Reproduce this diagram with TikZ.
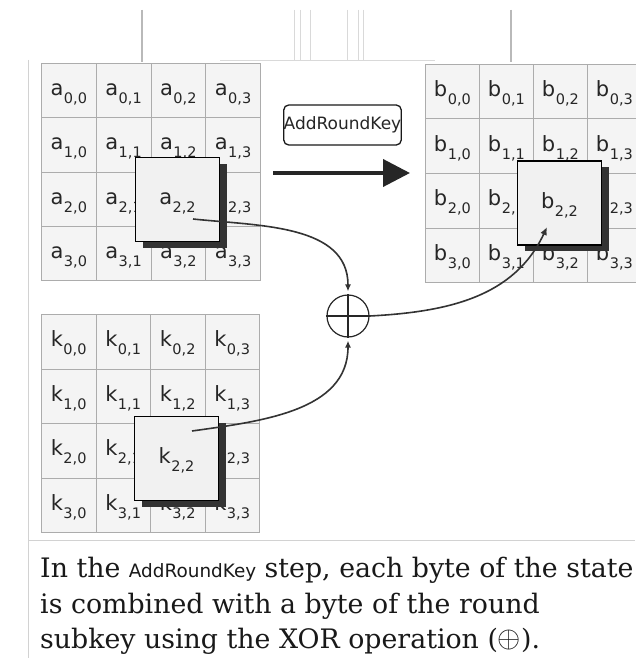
\documentclass[tikz,border=0pt]{standalone}
\usepackage{fontspec}
\usepackage{graphicx}
\setmainfont{DejaVu Serif}
\newfontfamily\cellfont{DejaVu Sans}
\usetikzlibrary{arrows.meta,shadows}

% letter with a lowered index, as printed in the state grids
\newcommand\cellab[2]{{\cellfont\fontsize{21}{21}\selectfont #1\kern0.5pt\raisebox{-8pt}{\fontsize{14.5}{14.5}\selectfont #2}}}
% xor sign at caption size
\newcommand\bigxor{\raisebox{0.5pt}{\scalebox{1.2}{$\oplus$}}}

\tikzset{
  cellbox/.style={draw=gray!65, line width=0.8pt, fill=gray!9, inner sep=0pt,
    anchor=north west, text height=16pt, text depth=6pt, text=black!85},
  hibox/.style={draw=black, line width=1.3pt, fill=gray!11, minimum size=84pt,
    inner sep=0pt, text height=16pt, text depth=6pt, text=black!85,
    drop shadow={shadow xshift=7pt, shadow yshift=-6pt, fill=black!80, opacity=1}},
  link/.style={draw=black!80, line width=1.6pt, -{Latex[length=7pt,width=6pt]}},
  opbox/.style={draw=black!90, line width=1.3pt, rounded corners=5pt, fill=white,
    minimum width=109pt, minimum height=40pt, inner sep=0pt,
    font=\cellfont\fontsize{17}{17}\selectfont, text=black!85},
  xorbox/.style={draw=black!85, circle, line width=1.2pt, minimum size=42pt, inner sep=0pt},
  edge line/.style={draw=gray!35, line width=0.8pt},
  capline/.style={anchor=base west, inner sep=0pt, text=black!90,
    font=\fontsize{26.8}{30}\selectfont}
}

\begin{document}
\begin{tikzpicture}[x=1pt,y=-1pt]
\useasboundingbox[fill=white] (0,0) rectangle (635,658);

% scanned page edges
\draw[edge line] (28,60) -- (28,658);
\draw[edge line] (28,540) -- (635,540);

% strokes above the grids
\draw[gray!55, line width=2pt] (142,10) -- (142,62);
\draw[gray!55, line width=2pt] (511,10) -- (511,62);
\foreach \xx in {294,300,310,347,358,363}
  \draw[gray!30, line width=0.6pt] (\xx,10) -- (\xx,60);
\draw[gray!30, line width=0.6pt] (220,60) -- (435,60);

% state grid a (the covered middle byte is printed on its own box)
\foreach \r in {0,...,3}
  \foreach \c in {0,...,3}{
    \ifnum\r\c=22
      \node[cellbox, minimum width=54.75pt, minimum height=54.25pt]
        (a-\r-\c) at ({41+\c*54.75},{63+\r*54.25}) {};
    \else
      \node[cellbox, minimum width=54.75pt, minimum height=54.25pt]
        (a-\r-\c) at ({41+\c*54.75},{63+\r*54.25}) {\cellab{a}{\r,\c}};
    \fi}

% state grid b
\foreach \r in {0,...,3}
  \foreach \c in {0,...,3}{
    \ifnum\r\c=22
      \node[cellbox, minimum width=54pt, minimum height=54.5pt]
        (b-\r-\c) at ({425+\c*54},{64+\r*54.5}) {};
    \else
      \node[cellbox, minimum width=54pt, minimum height=54.5pt]
        (b-\r-\c) at ({425+\c*54},{64+\r*54.5}) {\cellab{b}{\r,\c}};
    \fi}

% round key grid k
\foreach \r in {0,...,3}
  \foreach \c in {0,...,3}{
    \ifnum\r\c=22
      \node[cellbox, minimum width=54.5pt, minimum height=54.5pt]
        (k-\r-\c) at ({41+\c*54.5},{314+\r*54.5}) {};
    \else
      \node[cellbox, minimum width=54.5pt, minimum height=54.5pt]
        (k-\r-\c) at ({41+\c*54.5},{314+\r*54.5}) {\cellab{k}{\r,\c}};
    \fi}

% selected bytes
\node[hibox] (ha) at (177.5,199.5) {\cellab{a}{2,2}};
\node[hibox] (hb) at (559.5,203) {\cellab{b}{2,2}};
\node[hibox] (hk) at (176.5,458.5) {\cellab{k}{2,2}};

% operation label and arrow
\node[opbox] (op) at (342.5,125) {AddRoundKey};
\coordinate (arrS) at (273,173);
\coordinate (arrE) at (410,173);
\draw[black!85, line width=4pt, -{Triangle[length=27pt,width=27pt]}] (arrS) -- (arrE);

% xor
\node[xorbox] (xor) at (348,316) {};
\draw[black!85, line width=1.2pt] (xor.north) -- (xor.south) (xor.west) -- (xor.east);

\coordinate (ha-src) at (193,219);
\coordinate (hk-src) at (192,431);
\coordinate (hb-dst) at (547,227);
\draw[link] (ha-src) to[out=-6,in=90] ([yshift=3pt]xor.north);
\draw[link] (hk-src) to[out=8,in=-90] ([yshift=-3pt]xor.south);
\draw[link, -{Latex[length=8pt,width=7pt]}] (xor.east) to[out=3,in=-115] (hb-dst);

% caption
\node[capline] (cap1) at (40,577) {In the {\cellfont\fontsize{18.4}{20}\selectfont AddRoundKey} step, each byte of the state};
\node[capline] (cap2) at (40,613) {is combined with a byte of the round};
\node[capline] (cap3) at (40,648) {subkey using the XOR operation (\bigxor).};
\end{tikzpicture}
\end{document}
